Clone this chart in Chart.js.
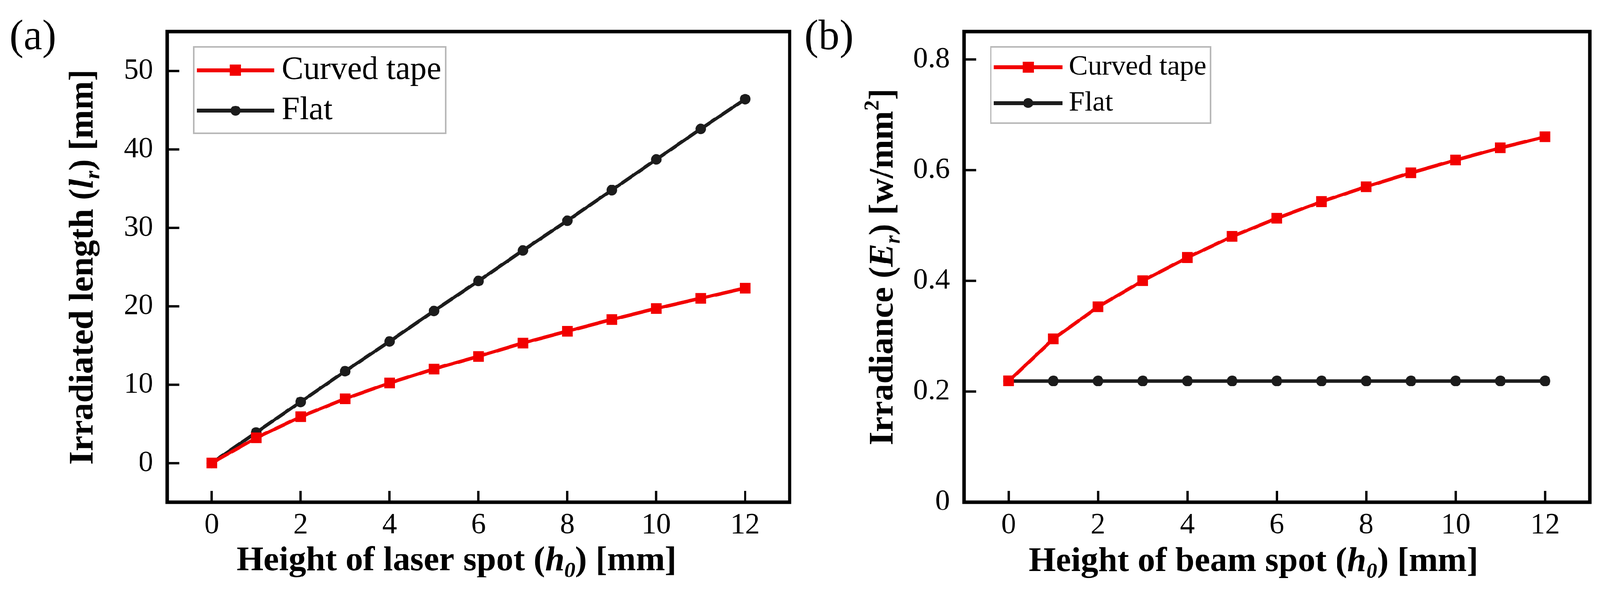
<!DOCTYPE html>
<html>
<head>
<meta charset="utf-8">
<script src="https://cdn.jsdelivr.net/npm/chart.js@4.4.1/dist/chart.umd.min.js"></script>
<style>
  html, body { margin: 0; padding: 0; background: #fff; overflow: hidden; }
  #wrap { position: absolute; left: 0; top: 0; width: 4239px; height: 1571px; transform-origin: 0 0; }
  #chartA { position: absolute; left: 0; top: 0; }
  #chartB { position: absolute; left: 2120px; top: 0; }
</style>
</head>
<body>
<div id="wrap">
  <canvas id="chartA" width="2120" height="1571"></canvas>
  <canvas id="chartB" width="2119" height="1571"></canvas>
</div>
<script>
// values
var heights = [0, 1, 2, 3, 4, 5, 6, 7, 8, 9, 10, 11, 12];
var lengthCurved = [0, 3.2, 5.9, 8.2, 10.2, 12.0, 13.6, 15.3, 16.8, 18.3, 19.7, 21.0, 22.3];
var lengthFlat = [0, 3.9, 7.8, 11.7, 15.5, 19.4, 23.2, 27.1, 30.9, 34.8, 38.7, 42.6, 46.4];
var irradianceCurved = [0.219, 0.295, 0.353, 0.400, 0.442, 0.480, 0.513, 0.543, 0.570, 0.595, 0.618, 0.640, 0.660];
var irradianceFlat = [0.219, 0.219, 0.219, 0.219, 0.219, 0.219, 0.219, 0.219, 0.219, 0.219, 0.219, 0.219, 0.219];
var seriesNames = ['Curved tape', 'Flat'];

var heightTicks = [0, 2, 4, 6, 8, 10, 12];
var lengthTicks = [0, 10, 20, 30, 40, 50];
var irradianceTicks = [0, 0.2, 0.4, 0.6, 0.8];

var panelLabels = ['(a)', '(b)'];

var RED = '#f20000';
var BLACK = '#1c1c1c';
var SERIF = '"Liberation Serif", "Times New Roman", serif';

// keep the whole 4239x1571 figure inside whatever viewport we get
var fit = Math.min(window.innerWidth / 4239, window.innerHeight / 1571);
if (fit > 0 && fit < 1) document.getElementById('wrap').style.transform = 'scale(' + fit + ')';

Chart.defaults.font.family = SERIF;
Chart.defaults.color = '#000';

function pts(xs, ys) {
  return xs.map(function (x, i) { return {x: x, y: ys[i]}; });
}

function inList(list, v) {
  return list.some(function (t) { return Math.abs(t - v) < 1e-6; });
}

function makeDatasets(curved, flat) {
  return [{
    label: seriesNames[0],
    data: pts(heights, curved),
    borderColor: RED,
    backgroundColor: RED,
    borderWidth: 9,
    pointStyle: 'rect',
    pointRadius: 20,
    pointBorderWidth: 0,
    tension: 0
  }, {
    label: seriesNames[1],
    data: pts(heights, flat),
    borderColor: BLACK,
    backgroundColor: BLACK,
    borderWidth: 9,
    pointStyle: 'circle',
    pointRadius: 14,
    pointBorderWidth: 0,
    tension: 0
  }];
}

function runFont(r, size) {
  var s = (r.sub || r.sup) ? Math.round(size * 0.62) : size;
  return (r.italic ? 'italic ' : '') + 'bold ' + s + 'px ' + SERIF;
}

// text with italic / sub / superscript pieces, centred on 0,0
function drawRuns(ctx, runs, size) {
  var widths = [], total = 0;
  runs.forEach(function (r) {
    ctx.font = runFont(r, size);
    var w = ctx.measureText(r.text).width;
    widths.push(w);
    total += w;
  });
  var x = -total / 2;
  ctx.textAlign = 'left';
  ctx.textBaseline = 'alphabetic';
  runs.forEach(function (r, i) {
    ctx.font = runFont(r, size);
    var dy = r.sub ? size * 0.2 : (r.sup ? -size * 0.4 : 0);
    ctx.fillText(r.text, x, dy);
    x += widths[i];
  });
}

function makeDecor(spec) {
  return {
    id: 'decor',
    afterDraw: function (chart) {
      var ctx = chart.ctx, a = chart.chartArea;
      var xs = chart.scales.x, ys = chart.scales.y;
      ctx.save();

      // inward ticks, long on labelled values
      ctx.strokeStyle = '#000';
      ctx.lineWidth = 6;
      xs.ticks.forEach(function (t) {
        if (t.value <= xs.min || t.value >= xs.max) return;
        var px = xs.getPixelForValue(t.value);
        var len = t.label ? 30 : 14;
        ctx.beginPath();
        ctx.moveTo(px, a.bottom);
        ctx.lineTo(px, a.bottom - len);
        ctx.stroke();
      });
      ys.ticks.forEach(function (t) {
        if (t.value <= ys.min || t.value >= ys.max) return;
        var py = ys.getPixelForValue(t.value);
        var len = t.label ? 32 : 15;
        ctx.beginPath();
        ctx.moveTo(a.left, py);
        ctx.lineTo(a.left + len, py);
        ctx.stroke();
      });

      // frame
      ctx.lineWidth = 9;
      ctx.strokeRect(a.left, a.top, a.right - a.left, a.bottom - a.top);

      // axis titles
      ctx.fillStyle = '#000';
      ctx.save();
      ctx.translate((a.left + a.right) / 2 + spec.xTitleDx, spec.xTitleBase);
      drawRuns(ctx, spec.xTitle, 92);
      ctx.restore();
      ctx.save();
      ctx.translate(spec.yTitleBase, (a.top + a.bottom) / 2);
      ctx.rotate(-Math.PI / 2);
      drawRuns(ctx, spec.yTitle, 92);
      ctx.restore();

      // panel label
      ctx.font = '112px ' + SERIF;
      ctx.textAlign = 'left';
      ctx.textBaseline = 'alphabetic';
      ctx.fillText(spec.panel, spec.panelX, 130);

      // legend
      var L = spec.legend;
      ctx.fillStyle = '#fff';
      ctx.fillRect(L.box[0], L.box[1], L.box[2] - L.box[0], L.box[3] - L.box[1]);
      ctx.strokeStyle = '#b8b8b8';
      ctx.lineWidth = 4;
      ctx.strokeRect(L.box[0], L.box[1], L.box[2] - L.box[0], L.box[3] - L.box[1]);
      chart.data.datasets.forEach(function (ds, i) {
        var y = L.rows[i];
        ctx.strokeStyle = ds.borderColor;
        ctx.lineWidth = 10;
        ctx.beginPath();
        ctx.moveTo(L.line[0], y);
        ctx.lineTo(L.line[1], y);
        ctx.stroke();
        ctx.fillStyle = ds.backgroundColor;
        Chart.helpers.drawPoint(ctx, {
          pointStyle: ds.pointStyle,
          radius: ds.pointStyle === 'rect' ? 21 : 13,
          rotation: 0,
          borderWidth: 0
        }, (L.line[0] + L.line[1]) / 2, y);
        ctx.fillStyle = '#000';
        ctx.font = L.font + 'px ' + SERIF;
        ctx.textAlign = 'left';
        ctx.textBaseline = 'middle';
        ctx.fillText(ds.label, L.textX, y);
      });

      ctx.restore();
    }
  };
}

function makeConfig(datasets, yMin, yMax, yStep, yLabels, yFmt, leftW, rightPad, decor) {
  return {
    type: 'line',
    data: {datasets: datasets},
    options: {
      responsive: false,
      devicePixelRatio: 1,
      animation: false,
      layout: {padding: {left: 0, top: 57, right: rightPad, bottom: 0}},
      plugins: {legend: {display: false}, tooltip: {enabled: false}, title: {display: false}},
      scales: {
        x: {
          type: 'linear',
          min: -1,
          max: 13,
          afterFit: function (s) { s.height = 241; },
          grid: {display: false, drawTicks: false},
          border: {display: false},
          ticks: {
            stepSize: 1,
            includeBounds: false,
            autoSkip: false,
            maxRotation: 0,
            padding: 15,
            color: '#000',
            font: {family: SERIF, size: 78},
            callback: function (v) { return inList(heightTicks, v) ? String(v) : null; }
          }
        },
        y: {
          type: 'linear',
          min: yMin,
          max: yMax,
          afterFit: function (s) { s.width = leftW; },
          grid: {display: false, drawTicks: false},
          border: {display: false},
          ticks: {
            stepSize: yStep,
            includeBounds: false,
            autoSkip: false,
            padding: 37,
            color: '#000',
            font: {family: SERIF, size: 78},
            callback: function (v) { return inList(yLabels, v) ? yFmt(v) : null; }
          }
        }
      }
    },
    plugins: [decor]
  };
}

var decorA = makeDecor({
  panel: panelLabels[0],
  panelX: 25,
  xTitle: [{text: 'Height of laser spot ('}, {text: 'h', italic: true}, {text: '0', italic: true, sub: true}, {text: ') [mm]'}],
  xTitleDx: -58,
  xTitleBase: 1510,
  yTitle: [{text: 'Irradiated length ('}, {text: 'l', italic: true}, {text: 'r', italic: true, sub: true}, {text: ') [mm]'}],
  yTitleBase: 245,
  legend: {box: [513, 124, 1181, 353], line: [522, 726], rows: [186, 293], textX: 746, font: 87}
});

var decorB = makeDecor({
  panel: panelLabels[1],
  panelX: 11,
  xTitle: [{text: 'Height of beam spot ('}, {text: 'h', italic: true}, {text: '0', italic: true, sub: true}, {text: ') [mm]'}],
  xTitleDx: -62,
  xTitleBase: 1512,
  yTitle: [{text: 'Irradiance ('}, {text: 'E', italic: true}, {text: 'r', italic: true, sub: true}, {text: ') [w/mm'}, {text: '2', sup: true}, {text: ']'}],
  yTitleBase: 245,
  legend: {box: [505, 124, 1087, 326], line: [513, 695], rows: [178, 273], textX: 712, font: 75}
});

var chartA = new Chart(document.getElementById('chartA').getContext('2d'),
  makeConfig(makeDatasets(lengthCurved, lengthFlat), -5, 55, 5, lengthTicks,
    function (v) { return String(v); }, 443, 28, decorA));

var chartB = new Chart(document.getElementById('chartB').getContext('2d'),
  makeConfig(makeDatasets(irradianceCurved, irradianceFlat), 0, 0.85, 0.1, irradianceTicks,
    function (v) { return v === 0 ? '0' : v.toFixed(1); }, 434, 27, decorB));
</script>
</body>
</html>
